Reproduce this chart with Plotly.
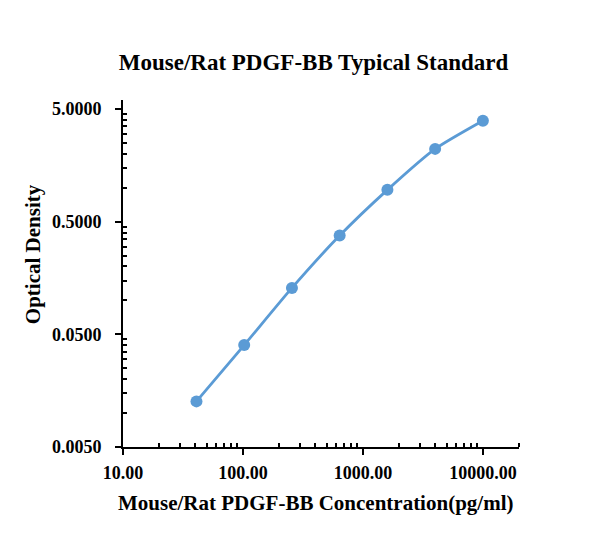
import numpy as np
import plotly.graph_objects as go

# Standard curve data (pg/ml vs OD)
concentration = [40.96, 102.4, 256, 640, 1600, 4000, 10000]
optical_density = [0.0127, 0.0401, 0.129, 0.376, 0.957, 2.21, 3.93]

x_ticks = [10, 100, 1000, 10000]
x_tick_labels = ["10.00", "100.00", "1000.00", "10000.00"]
y_ticks = [0.005, 0.05, 0.5, 5]
y_tick_labels = ["0.0050", "0.0500", "0.5000", "5.0000"]

font_family = "Liberation Serif, Times New Roman, serif"
blue = "#5B9BD5"

# minor ticks: 2..9 times each major value
x_minor = [v * k for v in x_ticks for k in range(2, 10)]
y_minor = [v * k for v in y_ticks[:-1] for k in range(2, 10)]

fig = go.Figure()
fig.add_trace(
    go.Scatter(
        x=concentration, y=optical_density,
        mode="lines+markers",
        line=dict(color=blue, width=2.8, shape="spline", smoothing=0.6),
        marker=dict(color=blue, size=12),
        showlegend=False
    )
)

fig.update_xaxes(
    type="log", range=[1, np.log10(20000)],
    tickmode="array", tickvals=x_ticks, ticktext=x_tick_labels,
    ticks="outside", ticklen=6, tickwidth=1.5, tickcolor="black",
    ticklabelstandoff=2,
    showline=True, linecolor="black", linewidth=2,
    showgrid=False, zeroline=False,
    minor=dict(tickmode="array", tickvals=x_minor, ticks="inside", ticklen=4,
               tickwidth=1.5, tickcolor="black", showgrid=False),
    tickfont=dict(family=font_family, size=18, color="black", weight="bold")
)

fig.update_yaxes(
    type="log", range=[np.log10(0.005), np.log10(6)],
    tickmode="array", tickvals=y_ticks, ticktext=y_tick_labels,
    ticks="outside", ticklen=6, tickwidth=1.5, tickcolor="black",
    ticklabelstandoff=10,
    showline=True, linecolor="black", linewidth=2,
    showgrid=False, zeroline=False,
    minor=dict(tickmode="array", tickvals=y_minor, ticks="inside", ticklen=4,
               tickwidth=1.5, tickcolor="black", showgrid=False),
    tickfont=dict(family=font_family, size=18, color="black", weight="bold")
)

# axis titles as annotations so they can sit where the original has them
fig.add_annotation(
    text="<b>Mouse/Rat PDGF-BB Concentration(pg/ml)</b>",
    xref="paper", yref="paper", x=0.485, y=-0.162,
    xanchor="center", yanchor="middle", showarrow=False,
    font=dict(family=font_family, size=21, color="black")
)
fig.add_annotation(
    text="<b>Optical Density</b>", textangle=-90,
    xref="paper", yref="paper", x=-0.227, y=0.556,
    xanchor="center", yanchor="middle", showarrow=False,
    font=dict(family=font_family, size=21, color="black")
)

# page body adds an 8px offset, so margins are shifted to compensate
fig.update_layout(
    width=611, height=558,
    title=dict(text="<b>Mouse/Rat PDGF-BB Typical Standard</b>",
               x=0.5, xanchor="center", y=0.903, yanchor="middle",
               font=dict(family=font_family, size=23, color="black")),
    margin=dict(l=115, r=100, t=92, b=119),
    paper_bgcolor="white",
    plot_bgcolor="white"
)

fig.write_html("out.html")
